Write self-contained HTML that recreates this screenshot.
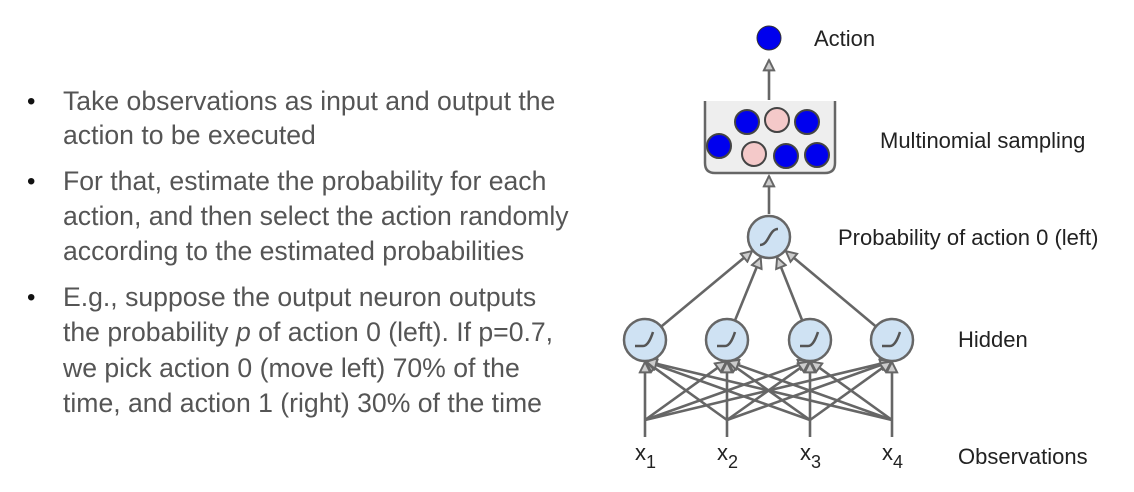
<!DOCTYPE html>
<html><head><meta charset="utf-8"><style>
body{margin:0;width:1134px;height:492px;background:#fff;overflow:hidden;font-family:"Liberation Sans",sans-serif}
.t{position:absolute;left:63px;font-size:26.6px;color:#555;white-space:nowrap}
.b{position:absolute;left:27px;font-size:24px;color:#111}
</style></head><body>
<div>
<div class="b" style="top:88px">•</div>
<div class="t" style="top:86px">Take observations as input and output the</div>
<div class="t" style="top:120px">action to be executed</div></div>
<div>
<div class="b" style="top:168px">•</div>
<div class="t" style="top:166px">For that, estimate the probability for each</div>
<div class="t" style="top:201px">action, and then select the action randomly</div>
<div class="t" style="top:236px">according to the estimated probabilities</div></div>
<div>
<div class="b" style="top:284px">•</div>
<div class="t" style="top:282px">E.g., suppose the output neuron outputs</div>
<div class="t" style="top:317px">the probability <i>p</i> of action 0 (left). If p=0.7,</div>
<div class="t" style="top:353px">we pick action 0 (move left) 70% of the</div>
<div class="t" style="top:388px">time, and action 1 (right) 30% of the time</div></div>
<svg width="1134" height="492" style="position:absolute;left:0;top:0">
<defs><marker id="a" viewBox="0 0 10 10" refX="9" refY="5" markerWidth="5" markerHeight="5" orient="auto"><path d="M1,1L9,5L1,9z" fill="#ccc" stroke="#666" stroke-width="1.5"/></marker></defs>
<g id="edges" stroke="#666" stroke-width="2.6" fill="none"></g>
<g font-family="Liberation Sans" font-size="22" fill="#222">
<text x="814" y="46">Action</text>
<text x="880" y="148">Multinomial sampling</text>
<text x="838" y="245">Probability of action 0 (left)</text>
<text x="958" y="347">Hidden</text>
<text x="958" y="464">Observations</text>
</g>
<circle cx="769" cy="38" r="12" fill="#0000ee" stroke="#333" stroke-width="1"/>
<path d="M705,101V163Q705,173 715,173H825Q835,173 835,163V101" fill="#eee" stroke="#666" stroke-width="2.5"/>
<g stroke="#444" stroke-width="2">
<circle cx="747" cy="122" r="12" fill="#0000ee"/><circle cx="777" cy="120" r="12" fill="#f4c9c9"/><circle cx="807" cy="122" r="12" fill="#0000ee"/>
<circle cx="719" cy="146" r="12" fill="#0000ee"/><circle cx="754" cy="154" r="12" fill="#f4c9c9"/><circle cx="786" cy="156" r="12" fill="#0000ee"/><circle cx="817" cy="155" r="12" fill="#0000ee"/>
</g>
<g id="nodes"></g>
<g font-family="Liberation Sans" font-size="22" fill="#222" id="xl"></g>
</svg>
<script>
const hx=[645,727,810,892];
const ns="http://www.w3.org/2000/svg";
const E=document.getElementById('edges'),N=document.getElementById('nodes'),X=document.getElementById('xl');
function line(x1,y1,x2,y2,arrow){const l=document.createElementNS(ns,'line');l.setAttribute('x1',x1);l.setAttribute('y1',y1);l.setAttribute('x2',x2);l.setAttribute('y2',y2);if(arrow)l.setAttribute('marker-end','url(#a)');E.appendChild(l);return l;}
line(769,100,769,60,true);line(769,214,769,176,true);
hx.forEach(x=>{const dx=769-x,dy=237-340,d=Math.hypot(dx,dy);line(x+dx/d*21,340+dy/d*21,769-dx/d*22,237-dy/d*22,true);});
hx.forEach(x=>{line(x,437,x,420,false);hx.forEach(t=>{const dx=t-x,dy=361-420,d=Math.hypot(dx,dy);line(x,420,t-dx/d*1,361-dy/d*1,true);});});
function node(x,y,sig){const c=document.createElementNS(ns,'circle');c.setAttribute('cx',x);c.setAttribute('cy',y);c.setAttribute('r',21);c.setAttribute('fill','#cfe2f3');c.setAttribute('stroke','#666');c.setAttribute('stroke-width','2.5');


N.appendChild(c);const p=document.createElementNS(ns,'path');p.setAttribute('d',sig?`M${x-9},${y+8}C${x},${y+8} ${x},${y-8} ${x+9},${y-8}`:`M${x-10},${y+6}H${x-2}C${x+3},${y+6} ${x+6},${y-2} ${x+8},${y-8}`);p.setAttribute('stroke','#555');p.setAttribute('stroke-width','2.5');p.setAttribute('fill','none');N.appendChild(p);}
node(769,237,true);hx.forEach(x=>node(x,340,false));
hx.forEach((x,i)=>{const t=document.createElementNS(ns,'text');t.setAttribute('x',x-10);t.setAttribute('y',460);t.innerHTML='x<tspan font-size="18" dy="8">'+(i+1)+'</tspan>';


X.appendChild(t);});
</script>
</body></html>
